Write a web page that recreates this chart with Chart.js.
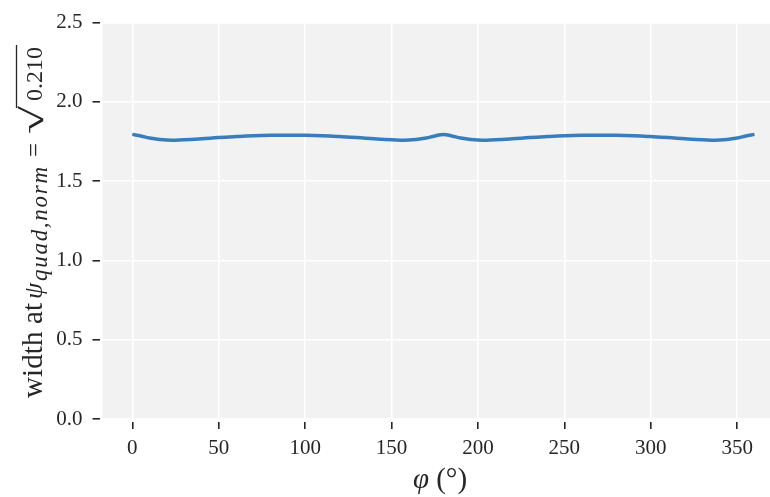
<!DOCTYPE html>
<html>
<head>
<meta charset="utf-8">
<style>
  html, body { margin: 0; padding: 0; background: #fff; }
  #chartDiv { width: 770px; height: 497px; }
</style>
</head>
<body>
<script src="https://cdn.jsdelivr.net/npm/chart.js@4/dist/chart.umd.min.js"></script>
<div id="chartDiv"><canvas id="chartContainer"></canvas></div>

<script>
// angle phi (degrees) and the width
const phi = [0, 5, 10, 20, 30, 40, 50, 60, 70, 80, 90, 100, 110, 120, 130, 140, 150, 160, 170, 175,
             180, 185, 190, 200, 210, 220, 230, 240, 250, 260, 270, 280, 290, 300, 310, 320, 330, 340, 350, 355, 360];
const widthVals = [1.795, 1.785, 1.772, 1.759, 1.761, 1.767, 1.775, 1.781, 1.786, 1.789, 1.790, 1.789, 1.786, 1.781, 1.775, 1.767, 1.761, 1.759, 1.772, 1.785,
                   1.795, 1.785, 1.772, 1.759, 1.761, 1.767, 1.775, 1.781, 1.786, 1.789, 1.790, 1.789, 1.786, 1.781, 1.775, 1.767, 1.761, 1.759, 1.772, 1.785, 1.795];
const xTicks = [0, 50, 100, 150, 200, 250, 300, 350];
const yTicks = [0.0, 0.5, 1.0, 1.5, 2.0, 2.5];

const SERIF = '"Liberation Serif", "DejaVu Serif", serif';
const INK = '#262626';

// grey axes background, inset a little so the ticks sit off the spine
const backdrop = {
    id: 'backdrop',
    beforeDraw(chart) {
        const {ctx, chartArea: a} = chart;
        ctx.save();
        ctx.fillStyle = '#f2f2f2';
        ctx.fillRect(a.left + 3, a.top + 1, a.right - a.left - 3, a.bottom - a.top - 4);
        ctx.restore();
    }
};

// draw text spread out so it fills 'span' pixels
function spreadText(ctx, txt, x0, y, span) {
    const ws = [...txt].map(c => ctx.measureText(c).width);
    const gap = (span - ws.reduce((a, b) => a + b, 0)) / (txt.length - 1);
    let x = x0;
    [...txt].forEach((c, i) => { ctx.fillText(c, x, y); x += ws[i] + gap; });
}

// axis labels with the bits of math in them
const axisLabels = {
    id: 'axisLabels',
    afterDraw(chart) {
        const ctx = chart.ctx;
        ctx.save();
        ctx.fillStyle = INK;
        ctx.strokeStyle = INK;
        ctx.textBaseline = 'alphabetic';

        // x label: phi (deg)
        const xparts = [
            {t: 'φ', f: 'italic 29px ' + SERIF},
            {t: ' (°)', f: '29px ' + SERIF}
        ];
        let tot = 0;
        xparts.forEach(p => { ctx.font = p.f; p.w = ctx.measureText(p.t).width; tot += p.w; });
        let x = 440 - tot / 2;
        xparts.forEach(p => { ctx.font = p.f; ctx.fillText(p.t, x, 488); x += p.w; });

        // y label, rotated; offsets run along the label from its start
        ctx.translate(42, 398);
        ctx.rotate(-Math.PI / 2);

        ctx.font = '29px ' + SERIF;
        spreadText(ctx, 'width at', 0, 0, 95);

        ctx.font = 'italic 26px ' + SERIF;
        ctx.fillText('ψ', 99, 0);

        ctx.font = 'italic 23px ' + SERIF;
        spreadText(ctx, 'quad,norm', 117, 5, 114);

        ctx.font = '25px ' + SERIF;
        ctx.fillText('=', 241, 0);

        // radical sign, stretched to the width it has in TeX
        ctx.font = '32px ' + SERIF;
        const rw = ctx.measureText('√').width;
        ctx.save();
        ctx.translate(264, 1);
        ctx.scale(28 / rw, 1);
        ctx.fillText('√', 0, 0);
        ctx.restore();

        ctx.font = '24px ' + SERIF;
        spreadText(ctx, '0.210', 297, 0, 54);
        ctx.lineWidth = 1.3;
        ctx.beginPath();
        ctx.moveTo(290, -25.5);
        ctx.lineTo(353, -25.5);
        ctx.stroke();

        ctx.restore();
    }
};

const chart = new Chart('chartContainer', {
    type: 'line',
    data: {
        labels: phi,
        datasets: [{
            label: 'width',
            data: phi.map((p, i) => ({x: p, y: widthVals[i]})),
            borderColor: '#3a7dbd',
            borderWidth: 3.5,
            pointRadius: 0,
            tension: 0.4,
            fill: false
        }]
    },
    options: {
        responsive: true,
        maintainAspectRatio: false,
        animation: false,
        layout: {padding: {top: 21, right: 0, left: 0, bottom: 0}},
        plugins: {
            legend: {display: false},
            tooltip: {enabled: false}
        },
        scales: {
            x: {
                type: 'linear',
                min: -19,
                max: 369,
                afterBuildTicks: axis => { axis.ticks = xTicks.map(v => ({value: v})); },
                afterFit: axis => { axis.height = 75; },
                grid: {color: '#ffffff', lineWidth: 1.6, tickColor: INK, tickWidth: 1.6, tickLength: 7},
                border: {display: false},
                ticks: {color: INK, font: {family: SERIF, size: 21}, padding: 7, maxRotation: 0}
            },
            y: {
                min: -0.019,
                max: 2.5,
                afterBuildTicks: axis => { axis.ticks = yTicks.map(v => ({value: v})); },
                afterFit: axis => { axis.width = 99.5; },
                grid: {color: '#ffffff', lineWidth: 1.6, tickColor: INK, tickWidth: 1.6, tickLength: 7},
                border: {display: false},
                ticks: {color: INK, font: {family: SERIF, size: 21}, padding: 10,
                        callback: v => v.toFixed(1)}
            }
        }
    },
    plugins: [backdrop, axisLabels]
});
</script>
</body>
</html>
